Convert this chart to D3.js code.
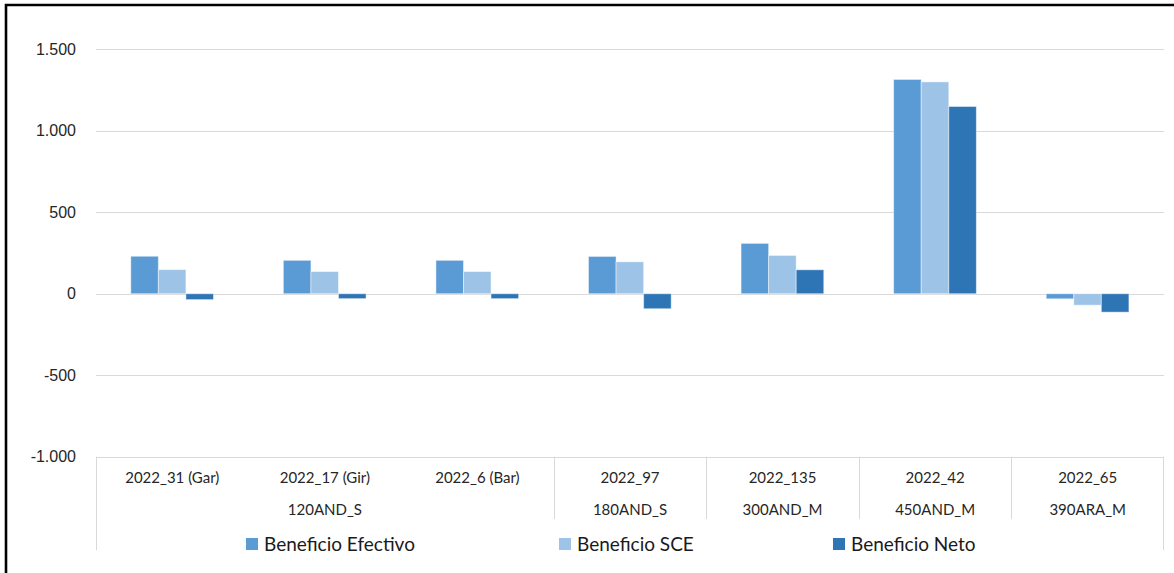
<!DOCTYPE html>
<meta charset="utf-8">
<style>
body { margin: 0; background: #fff; }
svg { display: block; font-family: Lato, "Liberation Sans", sans-serif; }
.grid line { stroke: #d9d9d9; stroke-width: 1px; }
.y-axis text { font-size: 16px; fill: #262626; }
.cat-label { font-size: 15px; fill: #262626; }
.legend text { font-size: 19px; fill: #1a1a1a; }
.frame-line { stroke: #d9d9d9; stroke-width: 1px; }
</style>
<body>
<script src="https://cdn.jsdelivr.net/npm/d3@7"></script>
<script>

var categories = ["2022_31 (Gar)", "2022_17 (Gir)", "2022_6 (Bar)", "2022_97", "2022_135", "2022_42", "2022_65"];
var groups = ["120AND_S", "120AND_S", "120AND_S", "180AND_S", "300AND_M", "450AND_M", "390ARA_M"];
var seriesNames = ["Beneficio Efectivo", "Beneficio SCE", "Beneficio Neto"];
var efectivo = [230, 205, 205, 229, 309, 1315, -31];
var sce = [148, 136, 136, 196, 235, 1300, -70];
var neto = [-36, -30, -30, -92, 147, 1149, -113];
var yTicks = [-1000, -500, 0, 500, 1000, 1500];

var colors = ["#5b9bd5", "#9dc3e6", "#2e75b6"];
var seriesValues = [efectivo, sce, neto];

var width = 1174,
    height = 573,
    plotLeft = 96,
    plotRight = 1164,
    plotTop = 49.3,
    plotBottom = 456.7;

var svg = d3.select("body").append("svg")
    .attr("width", width)
    .attr("height", height);

var locale = d3.formatLocale({decimal: ",", thousands: ".", grouping: [3], currency: ["", "€"], minus: "-"});
var fmt = locale.format(",d");

var y = d3.scaleLinear()
    .domain([-1000, 1500])
    .range([plotBottom, plotTop]);

var x0 = d3.scaleBand()
    .domain(categories)
    .range([plotLeft, plotRight])
    .padding(0);

var x1 = d3.scaleBand()
    .domain(seriesNames)
    .range([x0.bandwidth() * 0.228, x0.bandwidth() * 0.77])
    .padding(0);

// gridlines
svg.append("g")
    .attr("class", "grid")
  .selectAll("line")
    .data(yTicks)
  .enter().append("line")
    .attr("x1", plotLeft)
    .attr("x2", plotRight)
    .attr("y1", function(d) { return Math.round(y(d)) + 0.5; })
    .attr("y2", function(d) { return Math.round(y(d)) + 0.5; });

// y axis labels
var yAxis = d3.axisLeft(y)
    .tickValues(yTicks)
    .tickFormat(fmt)
    .tickSize(0)
    .tickPadding(20);

svg.append("g")
    .attr("class", "y-axis")
    .attr("transform", "translate(" + plotLeft + ",0)")
    .call(yAxis)
    .call(function(g) { g.select(".domain").remove(); });

// bars
var rows = categories.map(function(c, i) {
  return {cat: c, vals: seriesNames.map(function(s, k) { return {key: s, k: k, value: seriesValues[k][i]}; })};
});

svg.append("g")
  .selectAll("g")
    .data(rows)
  .enter().append("g")
    .attr("transform", function(d) { return "translate(" + x0(d.cat) + ",0)"; })
  .selectAll("rect")
    .data(function(d) { return d.vals; })
  .enter().append("rect")
    .attr("x", function(d) { return x1(d.key); })
    .attr("width", x1.bandwidth())
    .attr("y", function(d) { return y(Math.max(0, d.value)); })
    .attr("height", function(d) { return Math.abs(y(d.value) - y(0)); })
    .attr("fill", function(d) { return colors[d.k]; })
    .attr("stroke", "#ffffff")
    .attr("stroke-opacity", 0.45)
    .attr("stroke-width", 1);

// category axis box
var axisBottom = 550;
var axisMid = 519;
svg.append("line").attr("class", "frame-line")
    .attr("x1", plotLeft + 0.5).attr("x2", plotLeft + 0.5)
    .attr("y1", plotBottom).attr("y2", axisBottom);
svg.append("line").attr("class", "frame-line")
    .attr("x1", plotRight - 0.5).attr("x2", plotRight - 0.5)
    .attr("y1", plotBottom).attr("y2", axisBottom);

// dividers between groups
var groupSpans = [];
groups.forEach(function(g, i) {
  var last = groupSpans[groupSpans.length - 1];
  if (last && last.name === g) { last.end = i; }
  else groupSpans.push({name: g, start: i, end: i});
});

svg.selectAll(".divider")
    .data(groupSpans.slice(1))
  .enter().append("line")
    .attr("class", "frame-line")
    .attr("x1", function(d) { return Math.round(x0(categories[d.start])) + 0.5; })
    .attr("x2", function(d) { return Math.round(x0(categories[d.start])) + 0.5; })
    .attr("y1", plotBottom)
    .attr("y2", axisMid);

// category labels
svg.selectAll(".cat-label.first")
    .data(categories)
  .enter().append("text")
    .attr("class", "cat-label first")
    .attr("x", function(d) { return x0(d) + x0.bandwidth() / 2; })
    .attr("y", 478)
    .attr("text-anchor", "middle")
    .attr("dy", "0.35em")
    .text(function(d) { return d; });

svg.selectAll(".cat-label.second")
    .data(groupSpans)
  .enter().append("text")
    .attr("class", "cat-label second")
    .attr("x", function(d) {
      return (x0(categories[d.start]) + x0(categories[d.end]) + x0.bandwidth()) / 2;
    })
    .attr("y", 510)
    .attr("text-anchor", "middle")
    .attr("dy", "0.35em")
    .text(function(d) { return d.name; });

// legend
var legendX = [246, 559, 833];
var legend = svg.append("g").attr("class", "legend");
var items = legend.selectAll("g")
    .data(seriesNames)
  .enter().append("g")
    .attr("transform", function(d, i) { return "translate(" + legendX[i] + ",544)"; });

items.append("rect")
    .attr("x", 0)
    .attr("y", -6)
    .attr("width", 12)
    .attr("height", 12)
    .attr("fill", function(d, i) { return colors[i]; });

items.append("text")
    .attr("x", 18)
    .attr("y", 0)
    .attr("dy", "0.35em")
    .text(function(d) { return d; });

// outer frame
svg.append("path")
    .attr("d", "M6," + height + "V5H" + width)
    .attr("fill", "none")
    .attr("stroke", "#000")
    .attr("stroke-width", 2.6);

</script>
